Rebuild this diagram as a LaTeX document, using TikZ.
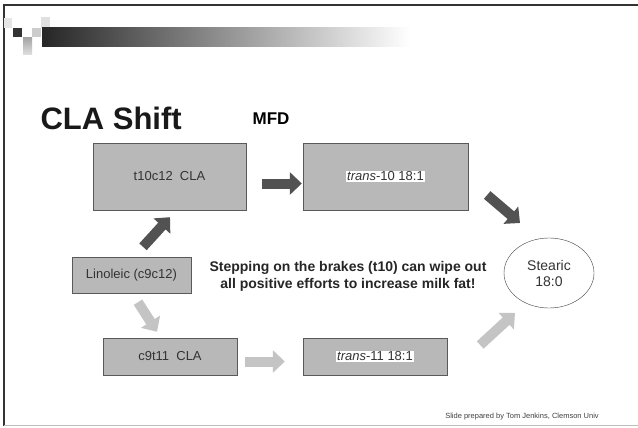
\documentclass[tikz,border=0pt]{standalone}
\usepackage{fontspec}
\setmainfont{Liberation Sans}
\usetikzlibrary{arrows.meta,shapes.geometric}
\newcommand{\fsz}[1]{\fontsize{#1}{#1}\selectfont}
\setlength{\fboxsep}{1pt}

\begin{document}
\begin{tikzpicture}[x=1pt, y=-1pt,
    box/.style 2 args={draw=black!65, fill=black!28, minimum width=#1, minimum height=#2, inner sep=0pt, text=black!80, font=\fsz{13}},
    darr/.style={line width=10pt, draw=black!68, -{Triangle[length=12pt,width=22pt]}},
    larr/.style={line width=10pt, draw=black!23, -{Triangle[length=12pt,width=22pt]}}]
    \useasboundingbox (0,0) rectangle (638,428);
    \fill[white] (0,0) rectangle (638,428);
    \draw[line width=1.5pt, black!80] (638,5) -- (4,5) -- (4,426);
    \draw[black!25] (4,425.5) -- (638,425.5);

    \fill[black!10] (4,18) rectangle (12,28);
    \fill[black!80] (13,28) rectangle (22,37);
    \fill[black!20] (32,28) rectangle (41,37);
    \fill[black!12] (41,17) rectangle (50,28);
    \shade[top color=black!35, bottom color=black!12] (23,38) rectangle (32,55);
    \shade[left color=black!85, right color=white] (42,28) rectangle (410,47);

    \node[anchor=base west, font=\bfseries\fsz{31}, text=black!90] (title) at (37,130) {CLA Shift};
    \node[font=\bfseries\fsz{17}] (mfd) at (271,119) {MFD};

    \node[box={153pt}{67pt}] (t10) at (169.5,176.5) {t10c12\ \ CLA};
    \node[box={165pt}{67pt}] (tr10) at (385.5,176.5) {\colorbox{white}{\textit{trans}-10 18:1}};
    \node[box={119pt}{36pt}] (lin) at (131.5,275) {Linoleic (c9c12)};
    \node[box={134pt}{37pt}] (c9) at (170,356.5) {c9t11\ \ CLA};
    \node[box={144pt}{37pt}] (tr11) at (375,356.5) {\colorbox{white}{\textit{trans}-11 18:1}};
    \node[draw=black!75, ellipse, minimum width=90pt, minimum height=70pt, inner sep=0pt,
        align=center, font=\fsz{14}, text=black!80] (st) at (549,273) {Stearic\\[2pt]18:0};

    \node[align=center, font=\bfseries\fsz{14}, text=black!85] (note) at (348,276)
        {Stepping on the brakes (t10) can wipe out\\[3pt] all positive efforts to increase milk fat!};

    \draw[darr] ([shift={(16,7)}]t10.east) -- ([shift={(-1,7)}]tr10.west);
    \draw[darr] ([shift={(11.5,-10)}]lin.north) -- ([shift={(0.5,7)}]t10.south);
    \draw[darr] ([shift={(19,18.5)}]tr10.east) -- ([shift={(-29,-50)}]st.center);
    \draw[larr] ([shift={(6.5,9)}]lin.south) -- ([shift={(-13,-6)}]c9.north);
    \draw[larr] ([shift={(8,5)}]c9.east) -- ([shift={(-18,5)}]tr11.west);
    \draw[larr] ([shift={(33,-11.5)}]tr11.east) -- ([shift={(-34,40)}]st.center);

    \node[font=\fsz{7.5}, text=black!75] (foot) at (522,417) {Slide prepared by Tom Jenkins, Clemson Univ};
\end{tikzpicture}
\end{document}
